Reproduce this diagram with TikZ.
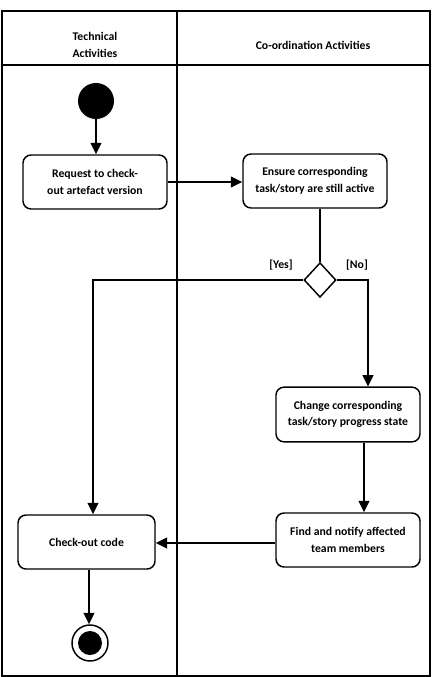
\documentclass[tikz,border=0pt]{standalone}
\usepackage{fontspec}
\setmainfont{Carlito}
\usetikzlibrary{arrows.meta,shapes.geometric}
\begin{document}
\begin{tikzpicture}[x=0.75pt,y=-0.75pt,
  act/.style={draw,line width=1.1pt,rounded corners=6pt,align=center,font=\bfseries\fontsize{8.8}{12.5}\selectfont,inner sep=2pt},
  flow/.style={line width=1.4pt,-{Triangle[length=8.5pt,width=8pt]}},
  plain/.style={line width=1.4pt},
  lbl/.style={font=\bfseries\fontsize{8.8}{10}\selectfont,inner sep=1pt},
  hdr/.style={font=\bfseries\fontsize{8.8}{12.5}\selectfont,align=center}]
\useasboundingbox (0,0) rectangle (433,677);
% frame
\draw[line width=1.1pt] (2,11) rectangle (430,676);
\draw[line width=1.1pt] (2,65) -- (430,65);
\draw[line width=1.1pt] (177,11) -- (177,676);
\node[hdr] (h1) at (95,45) {Technical\\Activities};
\node[hdr] (h2) at (313,45) {Co-ordination Activities};
% nodes
\node[circle,fill=black,minimum size=27pt,inner sep=0pt] (start) at (96,101) {};
\node[act,minimum width=108pt,minimum height=40.5pt] (req) at (95,182) {Request to check-\\out artefact version};
\node[act,minimum width=108pt,minimum height=40.5pt] (ens) at (315,181) {Ensure corresponding\\task/story are still active};
\node[diamond,draw,line width=1.1pt,minimum width=24pt,minimum height=26pt,inner sep=0pt] (dia) at (320,280) {};
\node[act,minimum width=108pt,minimum height=41pt] (chg) at (348,414.5) {Change corresponding\\task/story progress state};
\node[act,minimum width=108pt,minimum height=40.5pt] (fnd) at (348,540) {Find and notify affected\\team members};
\node[act,minimum width=102.75pt,minimum height=40.5pt] (chk) at (86.5,542) {Check-out code};
\node[circle,draw,line width=1.1pt,minimum size=27pt,inner sep=0pt] (fin) at (90,643) {};
\node[circle,fill=black,minimum size=18pt,inner sep=0pt] (finin) at (fin.center) {};
\coordinate (yesx) at (93,0);
\coordinate (nox) at (368,0);
\coordinate (chgx) at (364,0);
\coordinate (chkx) at (89,0);
% connectors
\draw[flow] (start) -- (start |- req.north);
\draw[flow] (req.east) -- (ens.west |- req.east);
\draw[plain] (dia.north |- ens.south) -- (dia.north);
\draw[flow] (dia.west) -| (yesx |- chk.north);
\draw[flow] (dia.east) -| (nox |- chg.north);
\draw[flow] (chgx |- chg.south) -- (chgx |- fnd.north);
\draw[flow] (fnd.west |- 0,543) -- (chk.east |- 0,543);
\draw[flow] (chkx |- chk.south) -- (chkx |- fin.north);
\node[lbl] (yes) at (281,265) {[Yes]};
\node[lbl] (no) at (357,265) {[No]};
\end{tikzpicture}
\end{document}
